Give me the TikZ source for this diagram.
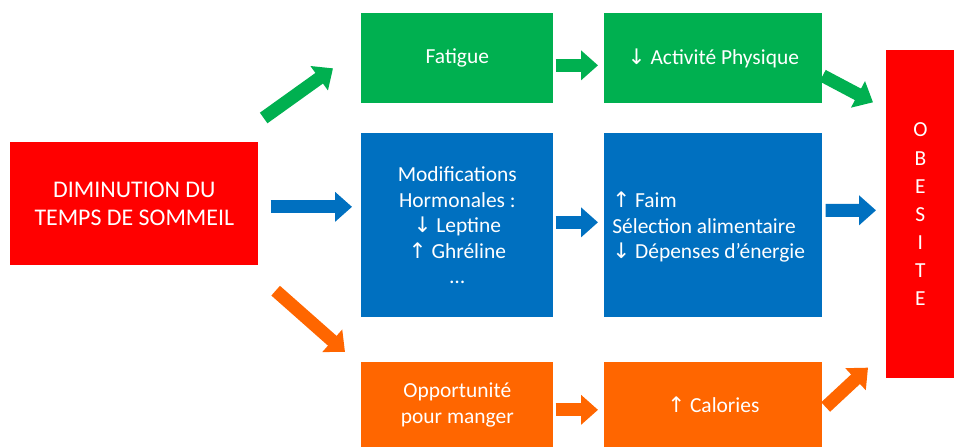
\documentclass[tikz,border=0pt]{standalone}
\usepackage{fontspec}
\setmainfont{Carlito}
\newfontfamily\symfont{DejaVu Sans}
\usetikzlibrary{arrows.meta,positioning}
\newcommand{\arrup}{{\symfont\char"2191}}
\newcommand{\arrdn}{{\symfont\char"2193}}
\definecolor{cgreen}{HTML}{00B050}
\definecolor{cblue}{HTML}{0070C0}
\definecolor{corange}{HTML}{FF6600}
\definecolor{cred}{HTML}{FF0000}

\begin{document}
\begin{tikzpicture}[x=0.02cm,y=-0.02cm,font=\fontsize{12.2}{14.5}\selectfont,
    box/.style={fill=#1,text=white,inner sep=0pt,anchor=north west,align=center},
    bigarrow/.style={#1,line width=0.26cm,-{Triangle[length=0.34cm,width=0.58cm]}}]
    \useasboundingbox (0,0) rectangle (954,447);

    % left cause
    \node[box=cred,minimum width=4.96cm,minimum height=2.46cm,
          font=\fontsize{13.6}{15.5}\selectfont] (dim) at (10,142)
        {DIMINUTION DU\\TEMPS DE SOMMEIL};

    % green row
    \node[box=cgreen,minimum width=3.84cm,minimum height=1.8cm] (fat) at (361,13) {Fatigue};
    \node[box=cgreen,minimum width=4.36cm,minimum height=1.8cm] (act) at (604,13)
        {\arrdn\ Activité Physique};

    % blue row
    \node[box=cblue,minimum width=3.84cm,minimum height=3.68cm] (hor) at (361,133)
        {Modifications\\Hormonales :\\\arrdn\ Leptine\\\arrup\ Ghréline\\…};
    \node[box=cblue,minimum width=4.36cm,minimum height=3.68cm] (fai) at (604,133) {};
    \node[text=white,align=left,anchor=west,inner sep=0pt] at ([shift={(8,2)}]fai.west)
        {\arrup\ Faim\\Sélection alimentaire\\\arrdn\ Dépenses d’énergie};

    % outcome
    \node[box=cred,minimum width=1.36cm,minimum height=6.56cm,
          font=\fontsize{12.2}{16}\selectfont] (obe) at (886,50)
        {O\\B\\E\\S\\I\\T\\E};

    % orange row
    \node[box=corange,minimum width=3.84cm,minimum height=1.7cm] (opp) at (361,362)
        {Opportunité\\pour manger};
    \node[box=corange,minimum width=4.36cm,minimum height=1.7cm] (cal) at (604,362)
        {\arrup\ Calories};

    % arrows
    \draw[bigarrow=cgreen] ([shift={(5,-24)}]dim.north east) -- ([shift={(-28,10)}]fat.west);
    \draw[bigarrow=cblue] ([shift={(12,3)}]dim.east) -- ([shift={(-9,3)}]dim.east -| hor.west);
    \draw[bigarrow=corange] ([shift={(17,25)}]dim.south east) -- ([shift={(-16,-10)}]opp.north west);

    \draw[bigarrow=cgreen] ([shift={(2,7)}]fat.east) -- ([shift={(-6,7)}]act.west);
    \draw[bigarrow=cblue] ([shift={(2,-3)}]hor.east) -- ([shift={(-6,-3)}]fai.west);
    \draw[bigarrow=corange] ([shift={(2,5)}]opp.east) -- ([shift={(-6,5)}]cal.west);

    \draw[bigarrow=cgreen] ([shift={(0,-28)}]act.south east) -- ([shift={(-13,-112)}]obe.west);
    \draw[bigarrow=cblue] ([shift={(3,-15)}]fai.east) -- ([shift={(-10,-4)}]obe.west);
    \draw[bigarrow=corange] ([shift={(3,45)}]cal.north east) -- ([shift={(-18,-11)}]obe.south west);
\end{tikzpicture}
\end{document}
